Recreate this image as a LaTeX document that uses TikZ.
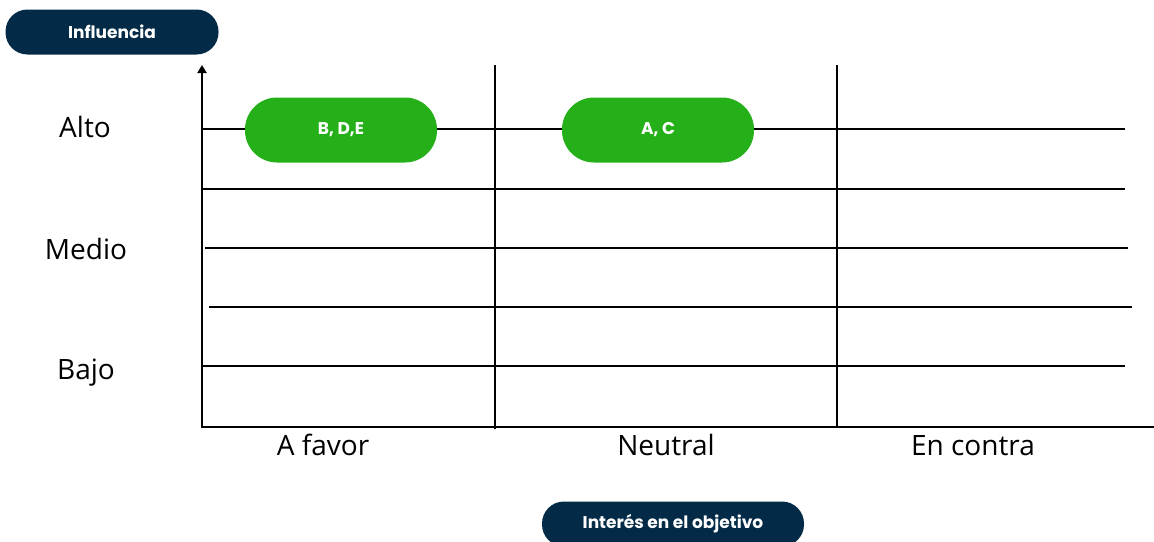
\documentclass[tikz,border=0pt]{standalone}
\usepackage{fontspec}
\setmainfont{Open Sans}
\newfontfamily\pillfont{Poppins}
\usetikzlibrary{arrows.meta}
\definecolor{navy}{HTML}{032B47}
\definecolor{leafgreen}{HTML}{25B01A}

\begin{document}
\begin{tikzpicture}[x=1pt,y=-1pt,
  grid/.style={line width=2.6pt,black},
  lbl/.style={anchor=base,font=\fontsize{28}{32}\selectfont},
  tag/.style={fill=navy,text=white,font=\pillfont\bfseries\fontsize{17}{19}\selectfont,rounded corners=22pt,minimum height=45pt,inner sep=0pt},
  grp/.style={fill=leafgreen,text=white,font=\pillfont\bfseries\fontsize{17}{19}\selectfont,rounded corners=32pt,minimum width=192pt,minimum height=65pt,inner sep=0pt}]
\useasboundingbox (0,0) rectangle (1154,541);
\clip (0,0) rectangle (1154,541);

% rows
\foreach \y/\a/\b in {129/202/1125, 189/202/1125, 248/205/1128, 307/209/1132, 366/202/1125} {
\draw[grid] (\a,\y) -- (\b,\y);
}
\draw[grid] (202,427) -- (1154,427);
% columns
\draw[grid] (495,65) -- (495,429);
\draw[grid] (837,65) -- (837,427);
% axis
\draw[grid,-{Triangle[width=9pt,length=8pt]}] (202,428) -- (202,65);

% titles
\node[tag,minimum width=213pt] (influ) at (112,32) {Influencia};
\node[tag,minimum width=262pt] (interes) at (673,524) {Interés en el objetivo};

% groups
\node[grp] (bde) at (341,130) {B, D,E};
\node[grp] (ac) at (658,130) {A, C};

% levels
\node[lbl] (alto) at (85,137) {Alto};
\node[lbl] (medio) at (86,259) {Medio};
\node[lbl] (bajo) at (86,379) {Bajo};

% positions
\node[lbl] (favor) at (323,455) {A favor};
\node[lbl] (neutral) at (666,455) {Neutral};
\node[lbl] (contra) at (973,455) {En contra};
\end{tikzpicture}
\end{document}
